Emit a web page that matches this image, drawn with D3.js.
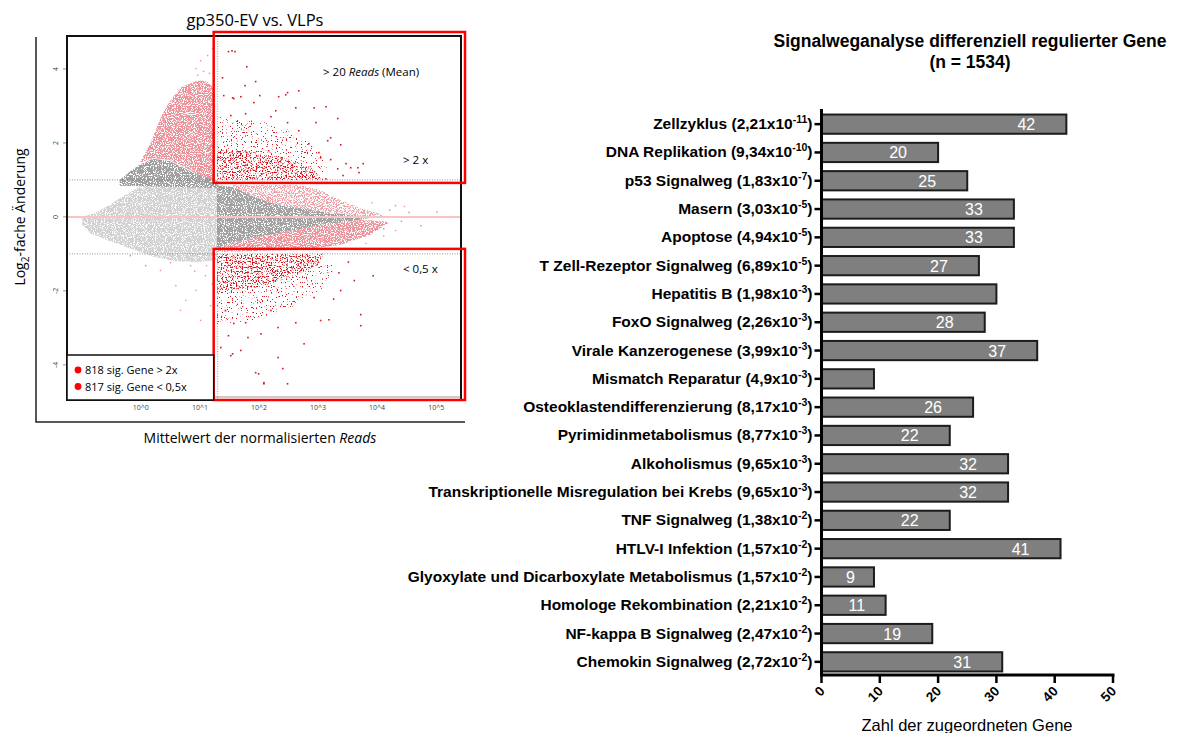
<!DOCTYPE html>
<html>
<head>
<meta charset="utf-8">
<script src="https://cdn.jsdelivr.net/npm/d3@7"></script>
<style>
  body { margin: 0; background: #fff; }
  svg { display: block; }
</style>
</head>
<body>
<div id="chart"></div>
<script>
// ---- MA plot data (x = log10 mean of normalized reads, y = log2 fold change) ----
// outlines of the dense point clouds
const lightGreyCloud = [[-1.0,0.0],[-0.78,0.1],[-0.53,0.32],[-0.27,0.59],[-0.02,0.81],[0.32,1.0],[1.29,1.0],[1.29,-1.16],[1.0,-1.22],[0.58,-1.2],[0.15,-1.05],[-0.19,-0.85],[-0.53,-0.65],[-0.85,-0.45],[-1.0,-0.2]];
const darkGreyWedge = [[-0.36,1.0],[-0.19,1.22],[-0.02,1.41],[0.2,1.57],[0.49,1.51],[0.83,1.24],[1.17,1.03],[1.29,0.95],[1.29,0.78],[-0.36,0.84]];
const darkGreyFunnel = [[1.29,0.86],[1.56,0.81],[1.85,0.59],[2.19,0.38],[2.69,0.24],[3.2,0.11],[3.71,0.03],[3.97,0],[3.71,-0.08],[3.2,-0.19],[2.86,-0.27],[2.36,-0.43],[1.85,-0.59],[1.56,-0.7],[1.29,-0.84]];
const pinkLowCount = [[-0.02,1.46],[0.15,1.95],[0.37,2.81],[0.53,3.22],[0.69,3.51],[0.86,3.62],[1.0,3.7],[1.12,3.65],[1.22,3.5],[1.22,1.0],[1.08,1.05],[0.83,1.27],[0.49,1.54],[0.2,1.59]];
const pinkUpperBand = [[1.56,0.86],[2.69,0.86],[3.03,0.73],[3.37,0.46],[3.71,0.24],[4.05,0.08],[3.97,0],[3.2,0.11],[2.69,0.24],[2.19,0.38],[1.85,0.59],[1.56,0.81]];
const pinkLowerBand = [[1.29,-0.84],[1.56,-0.7],[1.85,-0.59],[2.36,-0.43],[2.86,-0.27],[3.2,-0.19],[3.71,-0.08],[4.22,-0.14],[3.88,-0.49],[3.37,-0.76],[2.69,-0.89],[1.29,-0.95]];
const redUpperDense = [[1.29,1.0],[3.1,1.0],[2.9,1.3],[2.5,1.55],[1.9,1.75],[1.29,1.85]];
const redUpperMedium = [[1.29,1.85],[1.9,1.75],[2.5,1.55],[2.9,1.3],[3.2,1.15],[3.0,1.8],[2.6,2.3],[2.0,2.6],[1.29,2.7]];
const redLowerDense = [[1.29,-1.0],[3.1,-1.0],[3.0,-1.3],[2.6,-1.6],[2.0,-1.9],[1.29,-2.0]];
const redLowerMedium = [[1.29,-2.0],[2.0,-1.9],[2.6,-1.6],[3.0,-1.3],[3.3,-1.3],[3.1,-1.9],[2.6,-2.4],[1.9,-2.8],[1.29,-2.9]];

// single scattered genes outside the dense clouds
const redPoints = [[1.47,4.49],[1.53,4.51],[1.58,4.49],[1.78,4.08],[1.93,3.68],[1.75,3.57],[2.44,3.32],[2.66,3.43],[3.12,3.0],[2.92,2.97],[3.32,2.68],[2.95,2.57],[3.37,1.97],[3.75,1.46],[3.68,1.22],[1.56,3.22],[1.37,3.78],[2.15,1.81],[3.2,2.16],[3.03,1.62],[3.54,1.35],
  [1.39,3.30],[1.54,3.24],[1.68,3.27],[2.0,3.30],[2.32,3.27],[2.47,3.38],[1.90,3.11],[2.27,2.89],[2.61,2.97],[2.19,2.73],[1.76,2.81],[1.51,2.76],[2.47,2.57],[2.66,2.35],[3.15,2.08],[2.83,2.0],[3.0,1.76],[3.2,1.57],[3.46,1.46],[3.32,1.32],[3.66,1.35],[3.41,1.14],[3.12,1.05],
  [3.71,-2.62],[3.71,-2.92],[3.92,-1.57],[3.34,-1.49],[3.03,-2.78],[3.17,-2.76],[2.61,-2.84],[2.31,-3.78],[2.39,-4.08],[2.07,-4.49],[2.47,-4.49],[1.93,-4.19],[1.51,-3.73],[1.34,-3.51],[1.76,-2.84],[2.75,-3.41],[3.37,-1.97],[2.92,-2.16],
  [1.42,-2.51],[1.56,-2.86],[1.80,-3.24],[2.02,-3.14],[1.47,-3.19],[1.68,-3.59],[1.98,-4.22],[2.07,-4.46],[1.54,-3.68],[2.31,-2.97],[2.19,-2.51],[3.5,-1.2],[3.6,-1.7],[3.25,-2.2]];
const pinkPoints = [[0.32,-1.43],[0.58,-1.84],[0.75,-2.24],[1.0,-2.78],[1.08,-1.57],[0.83,-1.3],[0.49,-1.22],[0.92,-1.97],[1.17,-2.38],[0.66,-2.51],[1.0,4.24],[1.12,4.38],[0.92,4.03],[1.2,4.57],[1.05,3.95],[1.22,4.1],[1.15,3.9],[0.95,3.85],[1.1,-1.3],[1.2,-1.8],[0.9,-1.45],[3.9,0.4],[4.1,-0.5],[3.8,-0.7],[4.3,-0.35],[4.45,0.3]];
const greyPoints = [[4.05,0.05],[4.53,0.14],[4.73,-0.22],[4.3,0.32],[0.07,-1.3],[-0.19,-1.03],[3.9,-0.1],[4.1,-0.3],[5.0,0.15],[4.2,0.2],[4.4,-0.1]];

const maYTicks = [-4, -2, 0, 2, 4];
const maXTicks = [0, 1, 2, 3, 4, 5];
const minReads = 20;
const foldUp = 1, foldDown = -1;
const legendItems = ["818 sig. Gene > 2x", "817 sig. Gene < 0,5x"];

// ---- pathway bar chart data ----
const pathways = ["Zellzyklus","DNA Replikation","p53 Signalweg","Masern","Apoptose","T Zell-Rezeptor Signalweg","Hepatitis B","FoxO Signalweg","Virale Kanzerogenese","Mismatch Reparatur","Osteoklastendifferenzierung","Pyrimidinmetabolismus","Alkoholismus","Transkriptionelle Misregulation bei Krebs","TNF Signalweg","HTLV-I Infektion","Glyoxylate und Dicarboxylate Metabolismus","Homologe Rekombination","NF-kappa B Signalweg","Chemokin Signalweg"];
const pMantissa = ["2,21","9,34","1,83","3,03","4,94","6,89","1,98","2,26","3,99","4,9","8,17","8,77","9,65","9,65","1,38","1,57","1,57","2,21","2,47","2,72"];
const pExponent = ["-11","-10","-7","-5","-5","-5","-3","-3","-3","-3","-3","-3","-3","-3","-2","-2","-2","-2","-2","-2"];
const geneCounts = [42,20,25,33,33,27,30,28,37,9,26,22,32,32,22,41,9,11,19,31];
const countLabels = [42,20,25,33,33,27,null,28,37,null,26,22,32,32,22,41,9,11,19,31];
const barTicks = [0,10,20,30,40,50];

const svg = d3.select("#chart").append("svg")
    .attr("width", 1180)
    .attr("height", 733);

const defs = svg.append("defs");

// noise mask filters: keep a share of the pixels of a cloud, like a dense scatter
function speckleFilter(id, threshold, seed, freq) {
    const f = defs.append("filter")
        .attr("id", id)
        .attr("filterUnits", "userSpaceOnUse")
        .attr("x", 60).attr("y", 30).attr("width", 410).attr("height", 380);
    f.append("feTurbulence")
        .attr("type", "fractalNoise")
        .attr("baseFrequency", freq)
        .attr("numOctaves", 1)
        .attr("seed", seed)
        .attr("result", "noise");
    f.append("feColorMatrix")
        .attr("in", "noise")
        .attr("type", "matrix")
        .attr("values", `0 0 0 0 0  0 0 0 0 0  0 0 0 0 0  18 0 0 0 ${-18 * threshold}`)
        .attr("result", "mask");
    f.append("feComposite")
        .attr("in", "SourceGraphic")
        .attr("in2", "mask")
        .attr("operator", "in");
}
speckleFilter("spkGrey", 0.40, 3, 0.9);
speckleFilter("spkPink", 0.43, 7, 0.9);
speckleFilter("spkPinkLight", 0.48, 9, 0.9);
speckleFilter("spkRedDense", 0.56, 11, 0.8);
speckleFilter("spkRedMedium", 0.63, 17, 0.8);
speckleFilter("spkRedPink", 0.6, 23, 0.8);

// ================= MA plot =================
const ma = svg.append("g").attr("font-family", "'Open Sans', 'DejaVu Sans', sans-serif");

const x = d3.scaleLinear().domain([-1.25, 5.42]).range([67, 461]);
const y = d3.scaleLinear().domain([-4.95, 4.89]).range([400, 36]);

ma.append("text")
    .attr("x", 255).attr("y", 26)
    .attr("text-anchor", "middle")
    .attr("font-size", 16.5)
    .text("gp350-EV vs. VLPs");

// outer axis frame
ma.append("path")
    .attr("d", `M36,37 V422 H465`)
    .attr("fill", "none")
    .attr("stroke", "#222")
    .attr("stroke-width", 1.5);

const clip = defs.append("clipPath").attr("id", "maClip");
clip.append("rect").attr("x", 67).attr("y", 36).attr("width", 394).attr("height", 364);

const plot = ma.append("g").attr("clip-path", "url(#maClip)");
const line = d3.line().x(d => x(d[0])).y(d => y(d[1])).curve(d3.curveLinearClosed);

function cloud(pts, fill, filter) {
    plot.append("path").datum(pts)
        .attr("d", line)
        .attr("fill", fill)
        .attr("filter", `url(#${filter})`);
}

cloud(lightGreyCloud, "#d2d2d2", "spkGrey");
cloud(pinkLowCount, "#ec949c", "spkPink");
cloud(darkGreyWedge, "#9f9f9f", "spkGrey");
cloud(pinkUpperBand, "#f0a2a9", "spkPinkLight");
cloud(pinkLowerBand, "#ec949c", "spkPink");
cloud(darkGreyFunnel, "#a2a2a2", "spkGrey");
cloud(redUpperDense, "#ef8a93", "spkRedPink");
cloud(redLowerDense, "#ef8a93", "spkRedPink");
cloud(redUpperMedium, "#d7151f", "spkRedMedium");
cloud(redLowerMedium, "#d7151f", "spkRedMedium");
cloud(redUpperDense, "#d7151f", "spkRedDense");
cloud(redLowerDense, "#d7151f", "spkRedDense");

plot.selectAll(".pp").data(pinkPoints).enter().append("rect")
    .attr("x", d => x(d[0])).attr("y", d => y(d[1]))
    .attr("width", 1.4).attr("height", 1.4).attr("fill", "#ef8f98");
plot.selectAll(".gp").data(greyPoints).enter().append("rect")
    .attr("x", d => x(d[0])).attr("y", d => y(d[1]))
    .attr("width", 1.4).attr("height", 1.4).attr("fill", "#a0a0a0");
plot.selectAll(".rp").data(redPoints).enter().append("rect")
    .attr("x", d => x(d[0])).attr("y", d => y(d[1]))
    .attr("width", 1.6).attr("height", 1.6).attr("fill", "#d7151f");

// reference lines
plot.append("line")
    .attr("x1", 67).attr("x2", 461)
    .attr("y1", y(0)).attr("y2", y(0))
    .attr("stroke", "#f6c4c4").attr("stroke-width", 2);
[foldUp, foldDown].forEach(v => plot.append("line")
    .attr("x1", 67).attr("x2", 461)
    .attr("y1", y(v)).attr("y2", y(v))
    .attr("stroke", "#777").attr("stroke-width", 0.8)
    .attr("stroke-dasharray", "1,1.5"));
plot.append("line")
    .attr("x1", x(Math.log10(minReads))).attr("x2", x(Math.log10(minReads)))
    .attr("y1", 36).attr("y2", 400)
    .attr("stroke", "#888").attr("stroke-width", 0.8)
    .attr("stroke-dasharray", "1,1.5");

// plot box
ma.append("rect")
    .attr("x", 67).attr("y", 36).attr("width", 394).attr("height", 364)
    .attr("fill", "none").attr("stroke", "#111").attr("stroke-width", 2);
ma.append("line").attr("x1", 67).attr("x2", 461).attr("y1", 397).attr("y2", 397)
    .attr("stroke", "#555").attr("stroke-width", 0.6);

// axes ticks
maYTicks.forEach(t => {
    ma.append("line").attr("x1", 63).attr("x2", 66).attr("y1", y(t)).attr("y2", y(t))
        .attr("stroke", "#666").attr("stroke-width", 0.7);
    ma.append("text")
        .attr("transform", `translate(58,${y(t)}) rotate(-90)`)
        .attr("text-anchor", "middle")
        .attr("font-size", 7).attr("fill", "#444")
        .text(t);
});
maXTicks.forEach(t => ma.append("text")
    .attr("x", x(t)).attr("y", 410)
    .attr("text-anchor", "middle")
    .attr("font-size", 7).attr("fill", "#444")
    .text(`10^${t}`));

// axis titles
const yt = ma.append("text")
    .attr("transform", "translate(25,217) rotate(-90)")
    .attr("text-anchor", "middle")
    .attr("font-size", 14);
yt.append("tspan").text("Log");
yt.append("tspan").attr("font-size", 10).attr("dy", 4).text("2");
yt.append("tspan").attr("dy", -4).text("-fache Änderung");

const xt = ma.append("text")
    .attr("x", 260).attr("y", 443)
    .attr("text-anchor", "middle")
    .attr("font-size", 14);
xt.append("tspan").text("Mittelwert der normalisierten ");
xt.append("tspan").attr("font-style", "italic").text("Reads");

// highlighted regions
const boxLeft = x(Math.log10(minReads)) - 4;
ma.append("rect")
    .attr("x", boxLeft).attr("y", 32)
    .attr("width", 465 - boxLeft).attr("height", y(foldUp) + 3 - 32)
    .attr("fill", "none").attr("stroke", "#ff0000").attr("stroke-width", 2.5);
ma.append("rect")
    .attr("x", boxLeft).attr("y", y(foldDown) - 5)
    .attr("width", 465 - boxLeft).attr("height", 400 - y(foldDown) + 5)
    .attr("fill", "none").attr("stroke", "#ff0000").attr("stroke-width", 2.5);

const a1 = ma.append("text").attr("x", 323).attr("y", 76).attr("font-size", 11.5);
a1.append("tspan").text("> 20 ");
a1.append("tspan").attr("font-style", "italic").text("Reads");
a1.append("tspan").text(" (Mean)");
ma.append("text").attr("x", 403).attr("y", 164).attr("font-size", 11.5).text("> 2 x");
ma.append("text").attr("x", 403).attr("y", 273).attr("font-size", 11.5).text("< 0,5 x");

// legend
ma.append("rect")
    .attr("x", 67).attr("y", 355).attr("width", boxLeft - 67).attr("height", 45)
    .attr("fill", "#fff").attr("stroke", "#111").attr("stroke-width", 1.5);
legendItems.forEach((t, i) => {
    ma.append("circle").attr("cx", 78).attr("cy", 370 + i * 16.5).attr("r", 3.4).attr("fill", "#ff0000");
    ma.append("text").attr("x", 85).attr("y", 374 + i * 16.5).attr("font-size", 11).text(t);
});

// ================= bar chart =================
const bc = svg.append("g").attr("font-family", "'Liberation Sans', Arial, sans-serif");

bc.append("text")
    .attr("x", 970).attr("y", 47)
    .attr("text-anchor", "middle")
    .attr("font-size", 17.5).attr("font-weight", "bold")
    .text("Signalweganalyse differenziell regulierter Gene");
bc.append("text")
    .attr("x", 970).attr("y", 68)
    .attr("text-anchor", "middle")
    .attr("font-size", 17.5).attr("font-weight", "bold")
    .text("(n = 1534)");

const bx = d3.scaleLinear().domain([0, 50]).range([821.5, 1113]);
const by = d3.scaleBand().domain(pathways).range([110, 676]).paddingInner(0.32).paddingOuter(0.16);

bc.selectAll(".bar").data(pathways).enter().append("rect")
    .attr("x", bx(0))
    .attr("y", d => by(d))
    .attr("width", (d, i) => bx(geneCounts[i]) - bx(0))
    .attr("height", by.bandwidth())
    .attr("fill", "#7f7f7f")
    .attr("stroke", "#1c1c1c")
    .attr("stroke-width", 2);

bc.selectAll(".val").data(pathways).enter().append("text")
    .filter((d, i) => countLabels[i] !== null)
    .attr("x", d => {
        const v = geneCounts[pathways.indexOf(d)];
        return bx(v) - Math.min(40, (bx(v) - bx(0)) * 0.45);
    })
    .attr("y", d => by(d) + by.bandwidth() / 2 + 6)
    .attr("text-anchor", "middle")
    .attr("font-size", 16)
    .attr("fill", "#fff")
    .text(d => countLabels[pathways.indexOf(d)]);

// y axis with tick labels
bc.append("line").attr("x1", bx(0)).attr("x2", bx(0)).attr("y1", 109).attr("y2", 676)
    .attr("stroke", "#000").attr("stroke-width", 3);
pathways.forEach((p, i) => {
    const cy = by(p) + by.bandwidth() / 2;
    bc.append("line").attr("x1", bx(0) - 7).attr("x2", bx(0)).attr("y1", cy).attr("y2", cy)
        .attr("stroke", "#000").attr("stroke-width", 2.5);
    const t = bc.append("text")
        .attr("x", bx(0) - 9).attr("y", cy + 5)
        .attr("text-anchor", "end")
        .attr("font-size", 15.5).attr("font-weight", "bold");
    t.append("tspan").text(`${p} (${pMantissa[i]}x10`);
    t.append("tspan").attr("font-size", 10.5).attr("dy", -6).text(pExponent[i]);
    t.append("tspan").attr("dy", 6).text(")");
});

// x axis
bc.append("line").attr("x1", bx(0) - 1.5).attr("x2", bx(50) + 1.5).attr("y1", 675).attr("y2", 675)
    .attr("stroke", "#000").attr("stroke-width", 3);
barTicks.forEach(t => {
    bc.append("line").attr("x1", bx(t)).attr("x2", bx(t)).attr("y1", 675).attr("y2", 683)
        .attr("stroke", "#000").attr("stroke-width", 2.5);
    bc.append("text")
        .attr("transform", `translate(${bx(t) + 4},${692}) rotate(-45)`)
        .attr("text-anchor", "end")
        .attr("font-size", 13.5).attr("font-weight", "bold")
        .text(t);
});
bc.append("text")
    .attr("x", 967).attr("y", 731)
    .attr("text-anchor", "middle")
    .attr("font-size", 16.5)
    .text("Zahl der zugeordneten Gene");
</script>
</body>
</html>
